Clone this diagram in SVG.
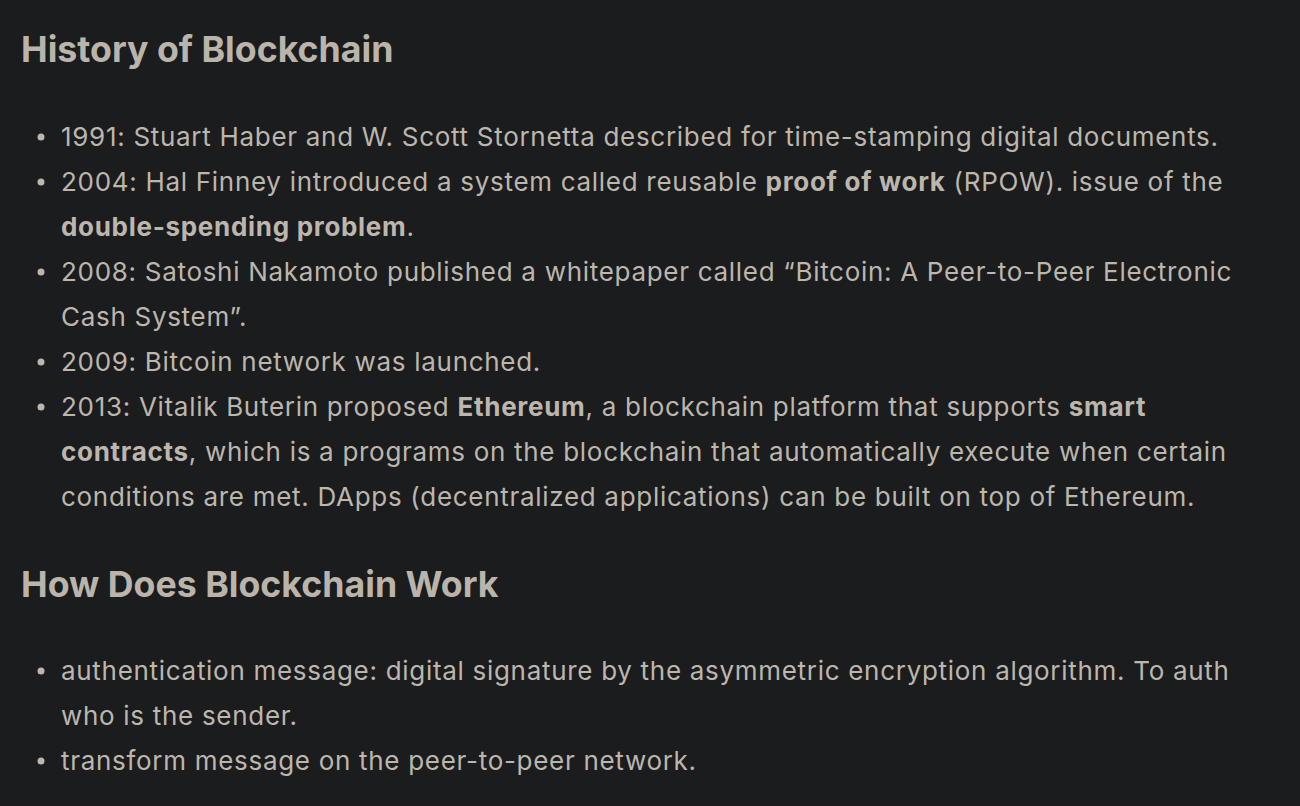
<svg xmlns="http://www.w3.org/2000/svg" width="1300" height="806" viewBox="0 0 1300 806">
<style>
.h{font-family:Inter,"Noto Sans","Liberation Sans",sans-serif;font-weight:700;font-size:35.7px;fill:#bab4ab}
.t{font-family:Inter,"Noto Sans","Liberation Sans",sans-serif;font-size:26px;letter-spacing:0.7px;fill:#bcb6ad}
.b{font-weight:700}
.d{fill:#bcb6ad}
</style>
<rect width="1300" height="806" fill="#1b1c1e"/>
<g id="heading1"><text class="h" x="21" y="62">History of Blockchain</text></g>
<g id="list1">
<circle class="d" cx="41" cy="137" r="3.5"/>
<circle class="d" cx="41" cy="182" r="3.5"/>
<circle class="d" cx="41" cy="272" r="3.5"/>
<circle class="d" cx="41" cy="362" r="3.5"/>
<circle class="d" cx="41" cy="407" r="3.5"/>
<text class="t" x="61" y="146">1991: Stuart Haber and W. Scott Stornetta described for time-stamping digital documents.</text>
<text class="t" x="61" y="191">2004: Hal Finney introduced a system called reusable <tspan class="b">proof of work</tspan> (RPOW). issue of the</text>
<text class="t" x="61" y="236"><tspan class="b">double-spending problem</tspan>.</text>
<text class="t" x="61" y="281">2008: Satoshi Nakamoto published a whitepaper called “Bitcoin: A Peer-to-Peer Electronic</text>
<text class="t" x="61" y="326">Cash System”.</text>
<text class="t" x="61" y="371">2009: Bitcoin network was launched.</text>
<text class="t" x="61" y="416">2013: Vitalik Buterin proposed <tspan class="b">Ethereum</tspan>, a blockchain platform that supports <tspan class="b">smart</tspan></text>
<text class="t" x="61" y="461"><tspan class="b">contracts</tspan>, which is a programs on the blockchain that automatically execute when certain</text>
<text class="t" x="61" y="506">conditions are met. DApps (decentralized applications) can be built on top of Ethereum.</text>
</g>
<g id="heading2"><text class="h" x="21" y="597">How Does Blockchain Work</text></g>
<g id="list2">
<circle class="d" cx="41" cy="671" r="3.5"/>
<circle class="d" cx="41" cy="761" r="3.5"/>
<text class="t" x="61" y="680">authentication message: digital signature by the asymmetric encryption algorithm. To auth</text>
<text class="t" x="61" y="725">who is the sender.</text>
<text class="t" x="61" y="770">transform message on the peer-to-peer network.</text>
</g>
</svg>
